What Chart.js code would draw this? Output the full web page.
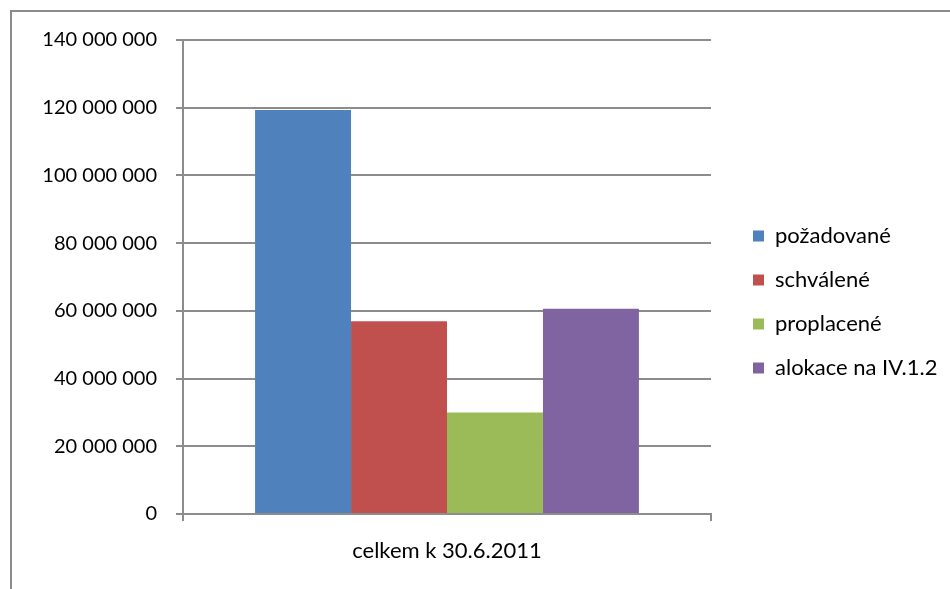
<!DOCTYPE html>
<html>
<head>
<meta charset="utf-8">
<script src="https://cdn.jsdelivr.net/npm/chart.js@4.4.0/dist/chart.umd.min.js"></script>
<style>
html, body { margin: 0; padding: 0; background: #fff; }
#wrap { position: relative; width: 950px; height: 589px; overflow: hidden; }
#frame { position: absolute; left: 10px; top: 10px; width: 1000px; height: 700px;
  border-left: 2px solid #8c8c8c; border-top: 2px solid #8c8c8c; }
canvas { position: absolute; left: 0; top: 0; }
</style>
</head>
<body>
<div id="wrap">
  <div id="frame"></div>
  <canvas id="chart" width="950" height="589" style="width:950px;height:589px"></canvas>
</div>
<script>
// data
const CATEGORIES = ['celkem k 30.6.2011'];
const SERIES = ['požadované', 'schválené', 'proplacené', 'alokace na IV.1.2'];
const VALUES = [119300000, 56900000, 30000000, 60600000];
const COLORS = ['#4F81BD', '#C0504D', '#9BBB59', '#8064A2'];
const Y_MAX = 140000000;
const Y_STEP = 20000000;

const GRID = '#8c8c8c';
const TICK_FONT = { family: 'Lato, "Open Sans", sans-serif', size: 20 };
const TEXT_FONT = { family: 'Lato, "Open Sans", sans-serif', size: 22 };

function spaced(v){ return String(v).replace(/\B(?=(\d{3})+(?!\d))/g, ' '); }

// legend sits 42px right of the plot and starts lower than the top of the plot
const LEGEND_W = 239, LEGEND_DX = 20, LEGEND_DY = 163;
const legendShift = {
  id: 'legendShift',
  beforeUpdate(chart){
    const lg = chart.legend;
    if(!lg || lg._shifted) return;
    lg._shifted = true;
    const fit = lg.fit, draw = lg.draw;
    lg.fit = function(){ fit.call(this); this.width = LEGEND_W; };
    lg.draw = function(){
      const l = this.left, t = this.top, b = this.bottom;
      this.left += LEGEND_DX; this.top += LEGEND_DY; this.bottom += LEGEND_DY;
      draw.call(this);
      this.left = l; this.top = t; this.bottom = b;
    };
  }
};

new Chart(document.getElementById('chart'), {
  type: 'bar',
  data: {
    labels: CATEGORIES,
    datasets: SERIES.map((s, i) => ({
      label: s,
      data: [VALUES[i]],
      backgroundColor: COLORS[i],
      borderWidth: 0,
      categoryPercentage: 0.727,
      barPercentage: 1
    }))
  },
  options: {
    responsive: false,
    animation: false,
    layout: { padding: { top: 40, right: 0, bottom: 0, left: 0 } },
    plugins: {
      tooltip: { enabled: false },
      legend: {
        position: 'right',
        align: 'start',
        labels: { boxWidth: 11, boxHeight: 11, padding: 22, color: '#000', font: TEXT_FONT }
      }
    },
    scales: {
      x: {
        grid: { display: true, drawOnChartArea: false, color: GRID, lineWidth: 2, tickLength: 7 },
        border: { color: GRID, width: 2 },
        ticks: { color: '#000', font: TEXT_FONT, padding: 17 },
        afterFit: s => { s.height = 75; }
      },
      y: {
        min: 0, max: Y_MAX,
        grid: { color: GRID, lineWidth: 2, tickLength: 7 },
        border: { color: GRID, width: 2 },
        ticks: { stepSize: Y_STEP, color: '#000', font: TICK_FONT, padding: 19, callback: v => spaced(v) },
        afterFit: s => { s.width = 183; }
      }
    }
  },
  plugins: [legendShift]
});
</script>
</body>
</html>
